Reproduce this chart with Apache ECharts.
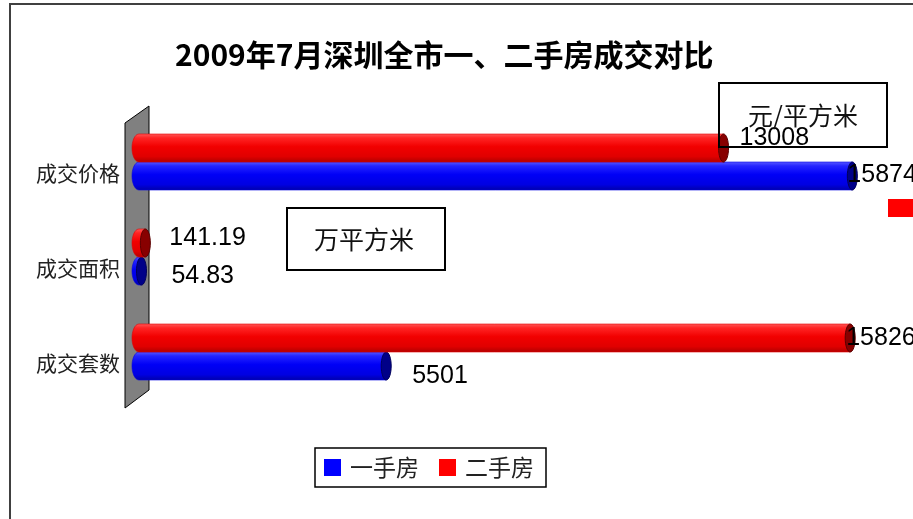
<!DOCTYPE html>
<html>
<head>
<meta charset="utf-8">
<script src="https://cdn.jsdelivr.net/npm/echarts@6/dist/echarts.min.js"></script>
<style>
  html, body { margin: 0; padding: 0; background: #fff; }
  #chart { width: 913px; height: 519px; }
</style>
</head>
<body>
<div id="chart"></div>
<script>
const categories = ['成交价格', '成交面积', '成交套数'];
const seriesNames = ['一手房', '二手房'];
const firstHand = [15874, 54.83, 5501];
const secondHand = [13008, 141.19, 15826];
const unitPrice = '元/平方米';
const unitArea = '万平方米';
const titleText = '2009年7月深圳全市一、二手房成交对比';

// label offsets (style only): [dx, dy] relative to bar end, per category
const labelOffsets = [
  [[-5, -1], [30, 5], [26, 10]],    // 一手房
  [[16, -10], [24, -5], [-4, 0]]    // 二手房
];

const palettes = [
  { stops: ['#5a5aff', '#2424ff', '#0000f6', '#0000e2', '#0000a8'], cap: '#000088', capStroke: '#00005a' },
  { stops: ['#ff5a5a', '#ff2424', '#f20000', '#e00000', '#b00000'], cap: '#880000', capStroke: '#5a0000' }
];

function ellipsePts(cx, cy, rx, ry, a0, a1, n) {
  const pts = [];
  for (let i = 0; i <= n; i++) {
    const a = a0 + (a1 - a0) * i / n;
    pts.push([cx + rx * Math.cos(a), cy + ry * Math.sin(a)]);
  }
  return pts;
}

function makeRender(sIdx) {
  return function (params, api) {
    const val = api.value(0);
    const cat = api.value(1);
    const start = api.coord([0, cat]);
    const end = api.coord([val, cat]);
    const h = 14;
    const yc = start[1] + (sIdx === 0 ? h : -h);
    const x0 = start[0];
    const x1 = end[0];
    const pal = palettes[sIdx];
    const grad = new echarts.graphic.LinearGradient(0, 0, 0, 1, [
      { offset: 0, color: pal.stops[0] },
      { offset: 0.15, color: pal.stops[1] },
      { offset: 0.45, color: pal.stops[2] },
      { offset: 0.8, color: pal.stops[3] },
      { offset: 1, color: pal.stops[4] }
    ]);
    // body with rounded left end
    const body = ellipsePts(x0, yc, 7, h, -Math.PI / 2, -Math.PI * 1.5, 20);
    body.push([x1, yc + h]);
    body.push([x1, yc - h]);
    const cap = ellipsePts(x1, yc, 5, h, 0, Math.PI * 2, 32);
    const off = labelOffsets[sIdx][params.dataIndex];
    return {
      type: 'group',
      children: [
        { type: 'polygon', shape: { points: body }, style: { fill: grad, stroke: pal.stops[3], lineWidth: 0.6 } },
        { type: 'polygon', shape: { points: cap }, style: { fill: pal.cap, stroke: pal.capStroke, lineWidth: 1 } },
        {
          type: 'text',
          x: x1 + off[0], y: yc + off[1],
          style: {
            text: String(val),
            fontSize: 25,
            fontFamily: '"Liberation Sans", Arial, sans-serif',
            fill: '#000',
            align: 'left',
            verticalAlign: 'middle'
          }
        }
      ]
    };
  };
}

const chart = echarts.init(document.getElementById('chart'), null, { renderer: 'canvas' });

const option = {
  animation: false,
  backgroundColor: '#fff',
  color: ['#0000ff', '#ff0000'],
  title: {
    text: titleText,
    left: 175,
    top: 40,
    padding: 0,
    textStyle: {
      fontSize: 30,
      fontWeight: 'bold',
      fontFamily: '"Noto Sans CJK SC", sans-serif',
      color: '#000'
    }
  },
  legend: {
    data: seriesNames,
    left: 315,
    top: 448,
    orient: 'horizontal',
    icon: 'rect',
    itemWidth: 17,
    itemHeight: 17,
    itemGap: 20,
    padding: [8, 12, 8, 9],
    borderColor: '#000',
    borderWidth: 1.5,
    textStyle: {
      fontSize: 23,
      fontFamily: '"Noto Sans CJK SC", sans-serif',
      color: '#222',
      padding: [0, 0, 0, 4]
    }
  },
  grid: { left: 139, right: 55, top: 114.5, bottom: 119.5 },
  xAxis: {
    type: 'value',
    min: 0,
    max: 16000,
    show: false,
    splitLine: { show: false }
  },
  yAxis: {
    type: 'category',
    inverse: true,
    data: categories,
    axisLine: { show: false },
    axisTick: { show: false },
    splitLine: { show: false },
    axisLabel: {
      margin: 19,
      fontSize: 21,
      color: '#222',
      fontFamily: '"Noto Sans CJK SC", sans-serif',
      verticalAlign: 'top',
      lineHeight: 22
    }
  },
  graphic: [
    { type: 'rect', z: 0, shape: { x: 10, y: 4, width: 960, height: 580 }, style: { fill: 'none', stroke: '#404040', lineWidth: 2 } },
    { type: 'polygon', z: 1, shape: { points: [[125, 123], [149, 106], [149, 390], [125, 408]] }, style: { fill: '#808080', stroke: '#000', lineWidth: 1 } },
    { type: 'rect', z: 10, shape: { x: 719, y: 83, width: 168, height: 64 }, style: { fill: 'none', stroke: '#000', lineWidth: 2 } },
    { type: 'text', z: 10, x: 803, y: 115, style: { text: unitPrice, fontSize: 25, fontFamily: '"Noto Sans CJK SC", sans-serif', fill: '#111', align: 'center', verticalAlign: 'middle' } },
    { type: 'rect', z: 10, shape: { x: 287, y: 208, width: 158, height: 62 }, style: { fill: '#fff', stroke: '#000', lineWidth: 2 } },
    { type: 'text', z: 10, x: 364, y: 239, style: { text: unitArea, fontSize: 25, fontFamily: '"Noto Sans CJK SC", sans-serif', fill: '#111', align: 'center', verticalAlign: 'middle' } },
    { type: 'rect', z: 10, shape: { x: 888, y: 199, width: 30, height: 18 }, style: { fill: '#ff0000' } }
  ],
  series: [
    {
      name: seriesNames[0],
      type: 'custom',
      itemStyle: { color: '#0000ff' },
      encode: { x: 0, y: 1 },
      renderItem: makeRender(0),
      data: firstHand.map((v, i) => [v, i]),
      z: 3
    },
    {
      name: seriesNames[1],
      type: 'custom',
      itemStyle: { color: '#ff0000' },
      encode: { x: 0, y: 1 },
      renderItem: makeRender(1),
      data: secondHand.map((v, i) => [v, i]),
      z: 3
    }
  ]
};

chart.setOption(option);
</script>
</body>
</html>
